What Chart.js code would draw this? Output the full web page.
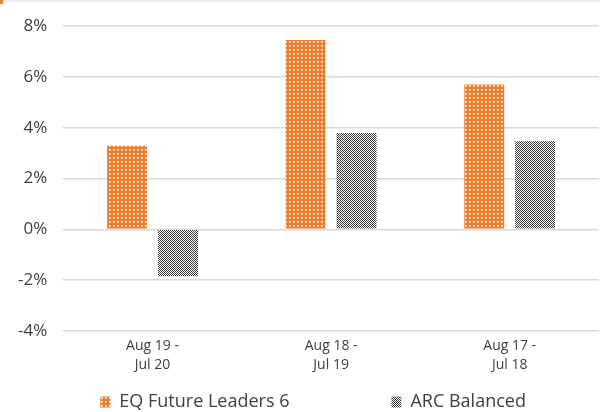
<!DOCTYPE html>
<html lang="en">
<head>
<meta charset="UTF-8">
<title>Fund returns</title>
<script src="https://cdn.jsdelivr.net/npm/chart.js"></script>
<style>
  html, body { margin: 0; padding: 0; background: #fff; }
  body { width: 600px; height: 412px; position: relative; overflow: hidden; }
  .topline { position: absolute; left: 0; top: 0; width: 600px; height: 2px; background: #ececec; }
  .topmark { position: absolute; left: 0; top: 0; width: 3px; height: 4px; background: #ed7d31; }
  #wrap { position: absolute; left: 0; top: 0; width: 600px; height: 412px; }
</style>
</head>
<body>
<div id="wrap"><canvas id="chart"></canvas></div>
<div class="topline"></div>
<div class="topmark"></div>
<script>
  // data
  const periods = [['Aug 19 -', 'Jul 20'], ['Aug 18 -', 'Jul 19'], ['Aug 17 -', 'Jul 18']];
  const eqFuture = [3.29, 7.46, 5.70];
  const arcBalanced = [-1.85, 3.79, 3.47];
  const seriesNames = ['EQ Future Leaders 6', 'ARC Balanced'];

  // hatch fills like the excel patterns
  function orangePattern() {
    const c = document.createElement('canvas');
    c.width = 4; c.height = 4;
    const g = c.getContext('2d');
    g.fillStyle = '#ed7d31';
    g.fillRect(0, 0, 4, 4);
    g.fillStyle = '#f8c9a6';
    g.fillRect(1, 1, 2, 2);
    g.fillStyle = '#ffffff';
    g.fillRect(1, 1, 1, 1);
    return g.createPattern(c, 'repeat');
  }
  function greyPattern() {
    const c = document.createElement('canvas');
    c.width = 2; c.height = 2;
    const g = c.getContext('2d');
    g.fillStyle = '#ffffff';
    g.fillRect(0, 0, 2, 2);
    g.fillStyle = '#3a3a3a';
    g.fillRect(0, 0, 1, 1);
    g.fillRect(1, 1, 1, 1);
    return g.createPattern(c, 'repeat');
  }

  const textColor = '#404040';
  const fontFamily = '"Open Sans", Lato, sans-serif';
  // excel spreads the legend entries out, so pad them with wide spaces
  const gapAfterFirst = '\u2003'.repeat(5) + '\u2002';
  const gapAfterSecond = '\u2003\u2003';

  new Chart(document.getElementById('chart'), {
    type: 'bar',
    data: {
      labels: periods,
      datasets: [
        { label: seriesNames[0], data: eqFuture, backgroundColor: orangePattern(), borderWidth: 0 },
        { label: seriesNames[1], data: arcBalanced, backgroundColor: greyPattern(), borderWidth: 0 }
      ]
    },
    options: {
      responsive: true,
      maintainAspectRatio: false,
      animation: false,
      categoryPercentage: 0.57,
      barPercentage: 0.784,
      layout: { padding: { top: 3, right: 1, left: 2, bottom: -9 } },
      plugins: {
        tooltip: { enabled: false },
        legend: {
          position: 'bottom',
          fullSize: false,
          labels: {
            color: textColor,
            font: { family: fontFamily, size: 18 },
            boxWidth: 10, boxHeight: 11,
            padding: 3,
            generateLabels(chart) {
              const items = Chart.defaults.plugins.legend.labels.generateLabels(chart);
              items[0].text = items[0].text + gapAfterFirst;
              items[1].text = items[1].text + gapAfterSecond;
              return items;
            }
          }
        }
      },
      scales: {
        x: {
          grid: { display: false, drawTicks: false },
          border: { display: false },
          ticks: { color: textColor, font: { family: fontFamily, size: 14, lineHeight: 1.36 }, padding: 6, maxRotation: 0 },
          title: { display: true, text: '', font: { size: 7.5 }, padding: 0 }
        },
        y: {
          min: -4, max: 8,
          border: { display: false },
          grid: { color: '#d9d9d9', lineWidth: 1.5, drawTicks: false },
          ticks: {
            stepSize: 2,
            padding: 16,
            color: textColor,
            font: { family: fontFamily, size: 17 },
            callback: v => v + '%'
          }
        }
      }
    }
  });
</script>
</body>
</html>
